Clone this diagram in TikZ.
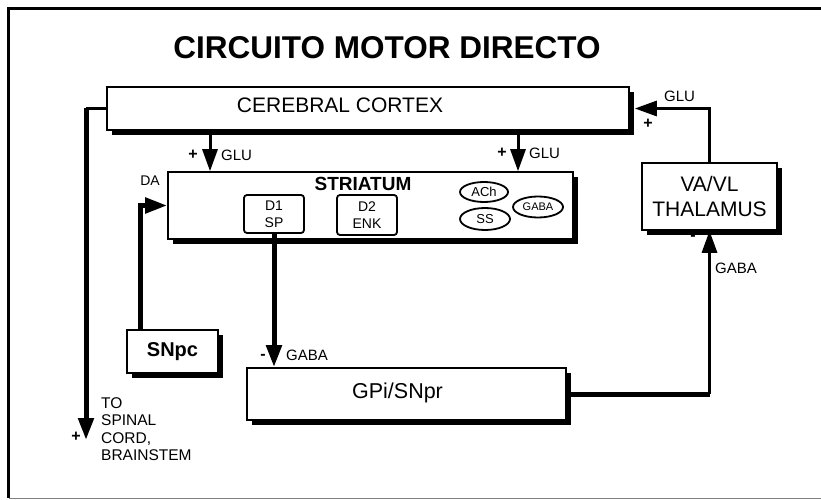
\documentclass[tikz,border=0pt]{standalone}
\usepackage{fontspec}
\setmainfont{Liberation Sans}
\usetikzlibrary{arrows.meta,shadows,shapes.geometric}
\begin{document}
\begin{tikzpicture}[x=1pt,y=-1pt,
  box/.style={draw=black, line width=1.6pt, fill=white, inner sep=0pt,
    drop shadow={shadow xshift=5pt, shadow yshift=-5pt, fill=black, opacity=1}},
  subbox/.style={draw=black, line width=1.8pt, fill=white, rounded corners=3pt, inner sep=0pt,
    minimum width=60, minimum height=38, align=center, font=\fontsize{14}{17}\selectfont},
  oval/.style={ellipse, draw=black, line width=1.8pt, fill=white, inner sep=0pt},
  thickline/.style={line width=5pt},
  medline/.style={line width=3pt},
  tip/.style={-{Triangle[width=15pt,length=22pt]}},
  lbl/.style={inner sep=0pt, font=\fontsize{15}{18}\selectfont},
  sgn/.style={inner sep=0pt, font=\bfseries\fontsize{16}{18}\selectfont}
]
\useasboundingbox (0,0) rectangle (821,500);
\fill[white] (0,0) rectangle (821,500);
% frame
\draw[line width=3.5pt] (821,8.5) -- (8.5,8.5) -- (8.5,498);
\draw[line width=1pt, gray] (8.5,498) -- (821,498);

% title
\node[inner sep=0pt, font=\bfseries\fontsize{31.5}{35}\selectfont] (title) at (387,48) {CIRCUITO MOTOR DIRECTO};

% boxes
\node[box, minimum width=522, minimum height=43,
  label={[xshift=-28pt, yshift=3pt, font=\fontsize{21}{24}\selectfont]center:CEREBRAL CORTEX}] (cortex) at (368,108.5) {};
\node[box, minimum width=405, minimum height=67] (striatum) at (370.5,205.5) {};
\node[inner sep=0pt, font=\bfseries\fontsize{19}{22}\selectfont] (strtext) at (363,184) {STRIATUM};
\node[subbox] (d1) at (274,214) {D1\\SP};
\node[subbox, minimum height=40] (d2) at (367,215) {D2\\ENK};
\node[oval, minimum width=48, minimum height=20, font=\fontsize{13}{15}\selectfont] (ach) at (484,192) {ACh};
\node[oval, minimum width=50, minimum height=22, font=\fontsize{13}{15}\selectfont] (ss) at (485,219) {SS};
\node[oval, minimum width=50, minimum height=21, font=\fontsize{11}{13}\selectfont] (gaba) at (538,207) {GABA};
\node[box, minimum width=135, minimum height=67, align=center, font=\fontsize{21}{25}\selectfont] (thal) at (709.5,196.5) {VA/VL\\THALAMUS};
\node[box, minimum width=91, minimum height=43, font=\bfseries\fontsize{20}{24}\selectfont] (snpc) at (172.5,351.5) {SNpc};
\node[box, minimum width=319, minimum height=52,
  label={[xshift=-9pt, yshift=1pt, font=\fontsize{21.5}{24}\selectfont]center:GPi/SNpr}] (gpi) at (406.5,394) {};

% helper coordinates
\coordinate (spinal) at (86,440);
\coordinate (gx1) at (210,0);
\coordinate (gx2) at (518,0);
\coordinate (dax) at (140,0);

% connectors
\draw[medline] (cortex.west) -- (cortex.west -| spinal);
\draw[thickline, tip] (cortex.west -| spinal) -- (spinal);
\draw[medline, tip] (cortex.south -| gx1) -- (striatum.north -| gx1);
\draw[medline, tip] (cortex.south -| gx2) -- (striatum.north -| gx2);
\draw[thickline, tip] (snpc.north -| dax) |- (striatum.west);
\draw[thickline, tip] (d1.south) -- (gpi.north -| d1.south);
\draw[thickline] (gpi.east) -- (gpi.east -| thal.south);
\draw[medline, tip] (gpi.east -| thal.south) -- (thal.south);
\draw[medline, tip] (thal.north) |- ([xshift=5pt]cortex.east);

% labels
\node[sgn] (p1) at (193,155) {+};
\node[lbl, anchor=west] (g1) at (221,155) {GLU};
\node[sgn] (p2) at (502,153) {+};
\node[lbl, anchor=west] (g2) at (529,153) {GLU};
\node[lbl, anchor=west] (g3) at (664,96) {GLU};
\node[sgn] (p3) at (648,124) {+};
\node[lbl, font=\fontsize{14}{16}\selectfont] (da) at (150,181) {DA};
\node[sgn] (m1) at (263,357) {-};
\node[lbl, anchor=west] (g4) at (286,355) {GABA};
\node[sgn] (m2) at (693,238) {-};
\node[lbl, anchor=west] (g5) at (715,268) {GABA};
\node[sgn] (p4) at (76,437) {+};
\node[inner sep=0pt, anchor=north west, align=left, font=\fontsize{15.5}{17.5}\selectfont] (spintext) at (101,397) {TO\\SPINAL\\CORD,\\BRAINSTEM};
\end{tikzpicture}
\end{document}
